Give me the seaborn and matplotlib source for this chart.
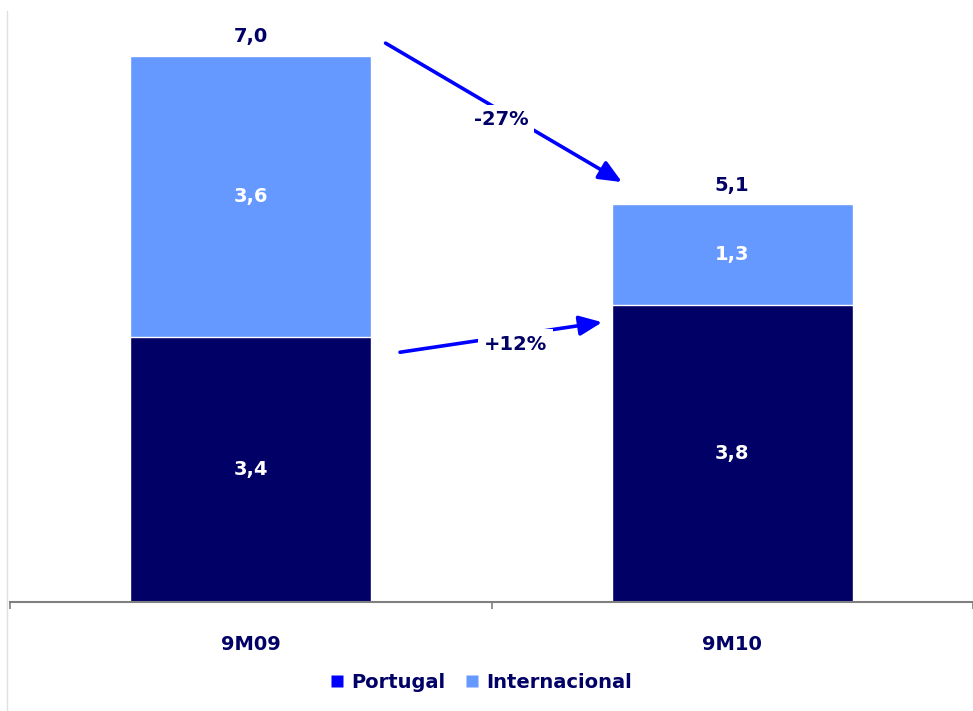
import matplotlib
matplotlib.use('Agg')
import matplotlib.pyplot as plt
from matplotlib.lines import Line2D
import seaborn as sns
import pandas as pd

# Data
categories = ['9M09', '9M10']
portugal = [3.4, 3.8]
internacional = [3.6, 1.3]
change_total = '-27%'
change_portugal = '+12%'

totals = [round(p + i, 1) for p, i in zip(portugal, internacional)]

# Style
sns.set_theme(style="white")
plt.rcParams['font.family'] = ['DejaVu Sans']

navy = '#000066'
light = '#6699FF'
arrow_blue = '#0000FF'
fs = 14

df = pd.DataFrame({'cat': categories, 'portugal': portugal,
                   'internacional': internacional, 'total': totals})

fig = plt.figure(figsize=(9.73, 7.11), dpi=100)
ax = fig.add_axes([10 / 973, 109 / 711, 963 / 973, 601 / 711])

# Stacked bars: total (light) underneath, Portugal (navy) on top
sns.barplot(data=df, x='cat', y='total', color=light, saturation=1,
            width=0.5, edgecolor='white', linewidth=1, ax=ax)
sns.barplot(data=df, x='cat', y='portugal', color=navy, saturation=1,
            width=0.5, edgecolor='white', linewidth=1, ax=ax)

ax.set_xlim(-0.5, 1.5)
ax.set_ylim(0, 7.7)

# Value labels
fmt = lambda v: f'{v:.1f}'.replace('.', ',')
for i in range(len(categories)):
    ax.text(i, portugal[i] / 2, fmt(portugal[i]), ha='center', va='center',
            color='white', fontsize=fs, fontweight='bold')
    ax.text(i, portugal[i] + internacional[i] / 2, fmt(internacional[i]),
            ha='center', va='center', color='white', fontsize=fs,
            fontweight='bold')
    ax.text(i, totals[i] + 0.12, fmt(totals[i]), ha='center', va='bottom',
            color=navy, fontsize=fs, fontweight='bold')

# Change arrows
arrow_kw = dict(arrowstyle='-|>,head_length=1.15,head_width=0.5',
                color=arrow_blue, lw=2.6, shrinkA=0, shrinkB=0)
p0 = (0.28, totals[0] + 0.16)
p1 = (0.771, totals[1] + 0.28)
ax.annotate('', xy=p1, xytext=p0, arrowprops=arrow_kw)
ax.text(0.52, 6.18, change_total, ha='center', va='center', color=navy,
        fontsize=fs, fontweight='bold',
        bbox=dict(facecolor='white', edgecolor='none', pad=4))

q0 = (0.31, portugal[0] - 0.2)
q1 = (0.73, portugal[1] - 0.215)
ax.annotate('', xy=q1, xytext=q0, arrowprops=arrow_kw)
ax.text(0.55, 3.3, change_portugal, ha='center', va='center', color=navy,
        fontsize=fs, fontweight='bold',
        bbox=dict(facecolor='white', edgecolor='none', pad=4))

# Axes styling
sns.despine(ax=ax, left=True, top=True, right=True)
ax.spines['bottom'].set_color('#808080')
ax.spines['bottom'].set_linewidth(1.5)
ax.set_yticks([])
ax.set_xlabel('')
ax.set_ylabel('')
ax.set_xticks([-0.5, 0.5, 1.5])
ax.set_xticklabels(['', '', ''])
ax.tick_params(axis='x', which='major', direction='out', length=5,
               width=1.2, color='#808080', bottom=True)
ax.set_xticks([0, 1], minor=True)
ax.set_xticklabels(categories, minor=True, color=navy, fontsize=fs,
                   fontweight='bold')
ax.tick_params(axis='x', which='minor', length=0, pad=24)

# Legend
handles = [Line2D([], [], marker='s', linestyle='none', markersize=8,
                  markerfacecolor=arrow_blue, markeredgecolor='none'),
           Line2D([], [], marker='s', linestyle='none', markersize=8,
                  markerfacecolor=light, markeredgecolor='none')]
leg = fig.legend(handles, ['Portugal', 'Internacional'], loc='center',
                 bbox_to_anchor=(0.494, 0.04), ncol=2, frameon=False,
                 handletextpad=0.3, columnspacing=1.0, handlelength=0.8,
                 prop={'size': fs, 'weight': 'bold'})
for t in leg.get_texts():
    t.set_color(navy)

# faint frame line on the left
fig.add_artist(Line2D([0.007, 0.007], [0, 0.985], color='#e0e0e0', lw=1))

fig.savefig('out.png', dpi=100)
